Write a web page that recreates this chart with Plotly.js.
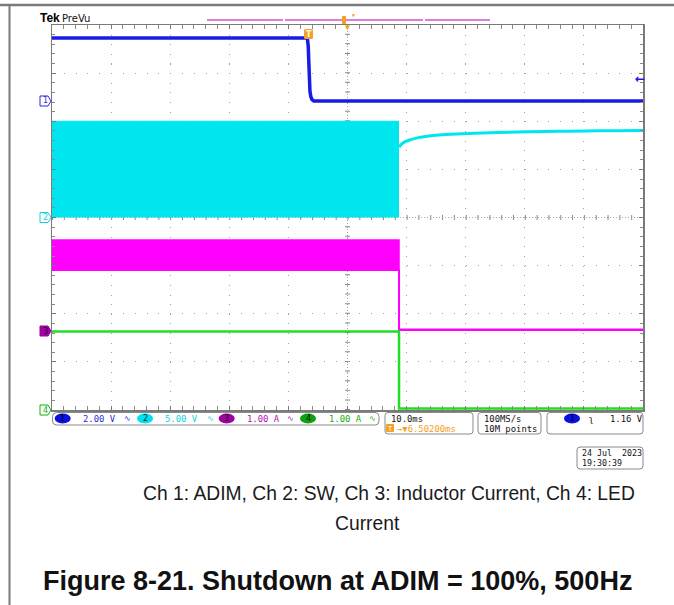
<!DOCTYPE html>
<html><head><meta charset="utf-8">
<script src="https://cdn.plot.ly/plotly-3.0.1.min.js"></script>
<style>body{margin:0;background:#fff}</style>
</head><body><div id="chart" style="width:674px;height:605px"></div>
<script>
// ---- Data (time in ms, trigger at 0; 10 ms/div; centre at +6.502 ms) ----
const timeRange = [-43.498, 56.502];
const timeDiv = 10;
const horizPos = 6.502;

// Ch1 ADIM (V), 2 V/div
const ch1Time = [-43.498, -20, -5, -0.3, -0.15, 0, 0.15, 0.3, 0.5, 0.8, 5, 30, 56.502];
const ch1Volt = [2.62, 2.62, 2.62, 2.62, 2.3, 1.16, 0.4, 0.18, 0.06, 0.0, 0.0, 0.0, 0.0];

// Ch2 SW (V), 5 V/div : switching envelope, then after shutdown
const ch2SwTime = [-43.498, 15.22];
const ch2SwHigh = [10.0, 10.0];
const ch2SwLow = [0, 0];
const ch2OffTime = [15.22, 15.6, 16.2, 17.0, 18.5, 20.0, 22.0, 25.0, 28.0, 32.0, 37.0, 42.0, 47.0, 52.0, 56.502];
const ch2OffVolt = [7.3, 7.6, 7.85, 8.05, 8.3, 8.45, 8.57, 8.68, 8.76, 8.83, 8.9, 8.95, 9.0, 9.02, 9.05];

// Ch3 Inductor current (A), 1 A/div : ripple envelope
const ch3Time = [-43.498, 15.22, 15.22, 56.502];
const ch3Min = [1.27, 1.27, 0.02, 0.02];
const ch3Max = [1.89, 1.89, 0.04, 0.04];

// Ch4 LED current (A), 1 A/div
const ch4Time = [-43.498, 15.22, 15.22, 56.502];
const ch4Amp = [1.6, 1.6, 0, 0];

// Channel settings: scale per div, ground position (div above bottom)
const chScale = [2, 5, 1, 1];
const chGround = [6.42, 4, 1.64, 0.03];
const chLabels = ['2.00 V', '5.00 V', '1.00 A', '1.00 A'];
const timeLabel = '10.0ms';
const delayLabel = '→▼6.50200ms';
const sampleLabels = ['100MS/s', '10M points'];
const trigLevel = '1.16 V';
const dateLabels = ['24 Jul  2023', '19:30:39'];
const captionLine1 = 'Ch 1: ADIM, Ch 2: SW, Ch 3: Inductor Current, Ch 4: LED';
const captionLine2 = 'Current';
const figTitle = 'Figure 8-21. Shutdown at ADIM = 100%, 500Hz';

// ---- Colours ----
const C1 = '#1a1ae6', C2 = '#00e6ee', C3 = '#ff00ff', C4 = '#22dd22';
const T1 = '#2a2ae0', T2 = '#10d0e0', T3 = '#b010b0', T4 = '#10b010';
const ORANGE = '#f5a020';

// ---- geometry helpers for decorations ----
const L = 52, R = 643, TOP = 25, B = 410, W = R - L, H = B - TOP;
const px = x => (x - L) / W;
const py = y => (B - y) / H;
function rng(i) { return [-chGround[i] * chScale[i], (8 - chGround[i]) * chScale[i]]; }

const traces = [
  {x: ch2SwTime, y: ch2SwLow, yaxis: 'y', mode: 'lines', line: {color: C2, width: 0}, hoverinfo: 'skip'},
  {x: ch2SwTime, y: ch2SwHigh, yaxis: 'y', mode: 'lines', fill: 'tonexty', fillcolor: C2, line: {color: C2, width: 1}, hoverinfo: 'skip'},
  {x: ch2OffTime, y: ch2OffVolt, yaxis: 'y', mode: 'lines', line: {color: C2, width: 3, shape: 'spline'}, hoverinfo: 'skip'},
  {x: ch4Time, y: ch4Amp, yaxis: 'y4', mode: 'lines', line: {color: C4, width: 2.5}, hoverinfo: 'skip'},
  {x: ch3Time, y: ch3Min, yaxis: 'y3', mode: 'lines', line: {color: C3, width: 2}, hoverinfo: 'skip'},
  {x: ch3Time, y: ch3Max, yaxis: 'y3', mode: 'lines', fill: 'tonexty', fillcolor: C3, line: {color: C3, width: 1.5}, hoverinfo: 'skip'},
  {x: ch1Time, y: ch1Volt, yaxis: 'y2', mode: 'lines', line: {color: C1, width: 3.5}, hoverinfo: 'skip'}
];

function rrect(x0, y0, x1, y1, r) {
  const rx = r / W, ry = r / H;
  const a = px(x0), b = px(x1), t = py(y0), u = py(y1);
  return `M${a + rx},${t} L${b - rx},${t} Q${b},${t} ${b},${t - ry} L${b},${u + ry} Q${b},${u} ${b - rx},${u} L${a + rx},${u} Q${a},${u} ${a},${u + ry} L${a},${t - ry} Q${a},${t} ${a + rx},${t} Z`;
}
function pent(x, y, w, h) { // marker box with right-pointing tip at (x,y)
  const pts = [[x - w, y - h / 2], [x - 3, y - h / 2], [x, y], [x - 3, y + h / 2], [x - w, y + h / 2]];
  return 'M' + pts.map(p => px(p[0]) + ',' + py(p[1])).join(' L') + ' Z';
}

const shapes = [
  // centre graticule lines with ticks
  {type: 'line', xref: 'x', yref: 'paper', x0: horizPos, x1: horizPos, y0: 0, y1: 1, line: {color: '#a8a8a8', width: 1, dash: '1px,2px'}, layer: 'below'},
  {type: 'line', xref: 'x', yref: 'paper', x0: horizPos, x1: horizPos, y0: 0, y1: 1, line: {color: '#8a8a8a', width: 5, dash: '1px,8.625px'}, layer: 'below'},
  {type: 'line', xref: 'paper', yref: 'y', x0: 0, x1: 1, y0: 0, y1: 0, line: {color: '#a8a8a8', width: 1, dash: '1px,2px'}, layer: 'below'},
  {type: 'line', xref: 'paper', yref: 'y', x0: 0, x1: 1, y0: 0, y1: 0, line: {color: '#8a8a8a', width: 5, dash: '1px,10.82px'}, layer: 'below'},
  // page borders
  {type: 'line', xref: 'paper', yref: 'paper', x0: px(0), x1: px(674), y0: py(5), y1: py(5), line: {color: '#7a7a7a', width: 2.5}},
  {type: 'line', xref: 'paper', yref: 'paper', x0: px(9.5), x1: px(9.5), y0: py(4), y1: py(605), line: {color: '#7a7a7a', width: 2}},
  // record view bar
  {type: 'line', xref: 'paper', yref: 'paper', x0: px(207), x1: px(283), y0: py(20), y1: py(20), line: {color: '#d050d0', width: 1.3}},
  {type: 'line', xref: 'paper', yref: 'paper', x0: px(285), x1: px(423), y0: py(20), y1: py(20), line: {color: '#d050d0', width: 1.3}},
  {type: 'line', xref: 'paper', yref: 'paper', x0: px(425), x1: px(490), y0: py(20), y1: py(20), line: {color: '#d050d0', width: 1.3}},
  {type: 'rect', xref: 'paper', yref: 'paper', x0: px(342), x1: px(346), y0: py(24), y1: py(16), fillcolor: ORANGE, line: {width: 0}},
  // left channel markers
  {type: 'path', xref: 'paper', yref: 'paper', path: pent(51, 101, 11, 10), line: {color: T1, width: 1}, fillcolor: '#ffffff'},
  {type: 'path', xref: 'paper', yref: 'paper', path: pent(51, 217.5, 11, 10), line: {color: T2, width: 1}, fillcolor: '#ffffff'},
  {type: 'path', xref: 'paper', yref: 'paper', path: pent(51, 331, 11, 10), line: {color: '#a000a0', width: 1}, fillcolor: '#a000a0'},
  {type: 'path', xref: 'paper', yref: 'paper', path: pent(51, 410, 11, 10), line: {color: T4, width: 1}, fillcolor: '#ffffff'},
  // trigger T box on trace
  {type: 'path', xref: 'paper', yref: 'paper', path: rrect(304, 29, 313, 39, 1.5), fillcolor: ORANGE, line: {width: 0}},
  // status boxes
  {type: 'path', xref: 'paper', yref: 'paper', path: rrect(52.5, 412.5, 379, 425, 4), line: {color: '#8a8a8a', width: 1}},
  {type: 'path', xref: 'paper', yref: 'paper', path: rrect(385, 412.5, 473, 434, 3), line: {color: '#8a8a8a', width: 1}},
  {type: 'path', xref: 'paper', yref: 'paper', path: rrect(478, 412.5, 541, 434, 3), line: {color: '#8a8a8a', width: 1}},
  {type: 'path', xref: 'paper', yref: 'paper', path: rrect(547, 412.5, 643, 434, 3), line: {color: '#8a8a8a', width: 1}},
  {type: 'path', xref: 'paper', yref: 'paper', path: rrect(577, 447, 643, 469, 3), line: {color: '#8a8a8a', width: 1}},
  {type: 'path', xref: 'paper', yref: 'paper', path: rrect(386, 424, 394, 432, 1), fillcolor: ORANGE, line: {width: 0}}
];

// channel pills
const pillX = [62.7, 145, 226.7, 308, 572];
const pillFill = ['#0a10e0', '#00e0ee', '#a000a0', '#10a010', '#0a10e0'];
pillX.forEach((x, i) => shapes.push({type: 'circle', xref: 'paper', yref: 'paper', x0: px(x - 8), x1: px(x + 8), y0: py(423.5), y1: py(413.5), fillcolor: pillFill[i], line: {width: 0}}));

const MONO = 'DejaVu Sans Mono';
function ann(text, x, y, o = {}) {
  return Object.assign({text, xref: 'paper', yref: 'paper', x: px(x), y: py(y), showarrow: false, xanchor: 'left', yanchor: 'middle',
    font: Object.assign({family: MONO, size: 8.9, color: '#111'}, o.font || {})}, o.extra || {});
}
const annotations = [
  ann('<b>Tek</b>', 38, 18, {font: {family: 'Liberation Sans', size: 12, color: '#000'}}),
  ann('PreVu', 59.5, 18, {font: {family: 'DejaVu Sans', size: 10, color: '#111'}}),
  ann('▼', 347, 27, {font: {size: 8, color: ORANGE}, extra: {xanchor: 'center'}}),
  ann('▼', 353.5, 15, {font: {size: 5, color: ORANGE}, extra: {xanchor: 'center'}}),
  ann('<b>T</b>', 308.5, 34, {font: {family: 'DejaVu Sans', size: 8, color: '#fff'}, extra: {xanchor: 'center'}}),
  ann('<b>←</b>', 640, 79, {font: {family: 'DejaVu Sans', size: 12, color: C1}, extra: {xanchor: 'center'}}),
  ann('1', 45.5, 101, {font: {family: 'DejaVu Sans', size: 8, color: T1}, extra: {xanchor: 'center'}}),
  ann('2', 45.5, 217.5, {font: {family: 'DejaVu Sans', size: 8, color: T2}, extra: {xanchor: 'center'}}),
  ann('3', 45.5, 331, {font: {family: 'DejaVu Sans', size: 8, color: '#300030'}, extra: {xanchor: 'center'}}),
  ann('4', 45.5, 410, {font: {family: 'DejaVu Sans', size: 8, color: T4}, extra: {xanchor: 'center'}}),
  ann(timeLabel, 389, 418.5),
  ann('T', 390, 428.5, {font: {family: 'DejaVu Sans', size: 7, color: '#fff'}, extra: {xanchor: 'center'}}),
  ann(delayLabel, 395, 428.5, {font: {color: ORANGE}}),
  ann(sampleLabels[0], 481.5, 418.5),
  ann(sampleLabels[1], 481.5, 428.5),
  ann('ʅ', 591, 418.5, {font: {family: 'DejaVu Sans', size: 9, color: '#111'}, extra: {xanchor: 'center'}}),
  ann(trigLevel, 608, 418.5),
  ann(dateLabels[0], 579.5, 453, {font: {size: 8.3}}),
  ann(dateLabels[1], 579.5, 463, {font: {size: 8.3}}),
  ann(captionLine1, 389, 493, {font: {family: 'Liberation Sans', size: 19.3, color: '#1a1a1a'}, extra: {xanchor: 'center'}}),
  ann(captionLine2, 367, 523, {font: {family: 'Liberation Sans', size: 19.3, color: '#1a1a1a'}, extra: {xanchor: 'center'}}),
  ann('<b>' + figTitle + '</b>', 337, 581, {font: {family: 'Liberation Sans', size: 27, color: '#111'}, extra: {xanchor: 'center'}})
];
// status line: channel numbers, scales, bandwidth symbols
const labelX = [80.5, 162.7, 245, 326.7];
const bwX = [127, 210, 290, 372.5];
const txtCol = [T1, T2, T3, T4];
const numCol = ['#000', '#003040', '#200020', '#002000'];
for (let i = 0; i < 4; i++) {
  annotations.push(ann(String(i + 1), pillX[i], 418.5, {font: {family: 'DejaVu Sans', size: 8, color: numCol[i]}, extra: {xanchor: 'center'}}));
  annotations.push(ann(chLabels[i], labelX[i], 418.5, {font: {color: txtCol[i]}}));
  annotations.push(ann('∿', bwX[i], 418.5, {font: {family: 'DejaVu Sans', size: 8, color: txtCol[i]}, extra: {xanchor: 'center'}}));
}
annotations.push(ann('1', pillX[4], 418.5, {font: {family: 'DejaVu Sans', size: 8, color: '#000'}, extra: {xanchor: 'center'}}));

const hidden = {visible: false, overlaying: 'y', fixedrange: true};
const layout = {
  width: 674, height: 605,
  margin: {l: L, r: 674 - R, t: TOP, b: 605 - B, pad: 0},
  paper_bgcolor: '#ffffff', plot_bgcolor: '#ffffff',
  showlegend: false,
  xaxis: {range: timeRange, tick0: timeRange[0], dtick: timeDiv, showgrid: true, gridcolor: '#a0a0a0', gridwidth: 1, griddash: '1px,8.625px',
    zeroline: false, showline: true, linecolor: '#7a7a7a', linewidth: 1.5, mirror: 'allticks', ticks: 'inside', ticklen: 4, tickcolor: '#7a7a7a',
    showticklabels: false, minor: {dtick: timeDiv / 5, tick0: timeRange[0], ticks: 'inside', ticklen: 3, tickcolor: '#8a8a8a', showgrid: false}},
  yaxis: {range: rng(1), tick0: 0, dtick: chScale[1], showgrid: true, gridcolor: '#a0a0a0', gridwidth: 1, griddash: '1px,10.82px',
    zeroline: false, showline: true, linecolor: '#7a7a7a', linewidth: 1.5, mirror: 'allticks', ticks: 'inside', ticklen: 4, tickcolor: '#7a7a7a',
    showticklabels: false, minor: {dtick: chScale[1] / 5, ticks: 'inside', ticklen: 3, tickcolor: '#8a8a8a', showgrid: false}},
  yaxis2: Object.assign({range: rng(0)}, hidden),
  yaxis3: Object.assign({range: rng(2)}, hidden),
  yaxis4: Object.assign({range: rng(3)}, hidden),
  shapes, annotations
};
Plotly.newPlot('chart', traces, layout, {staticPlot: true, displayModeBar: false});
</script></body></html>
